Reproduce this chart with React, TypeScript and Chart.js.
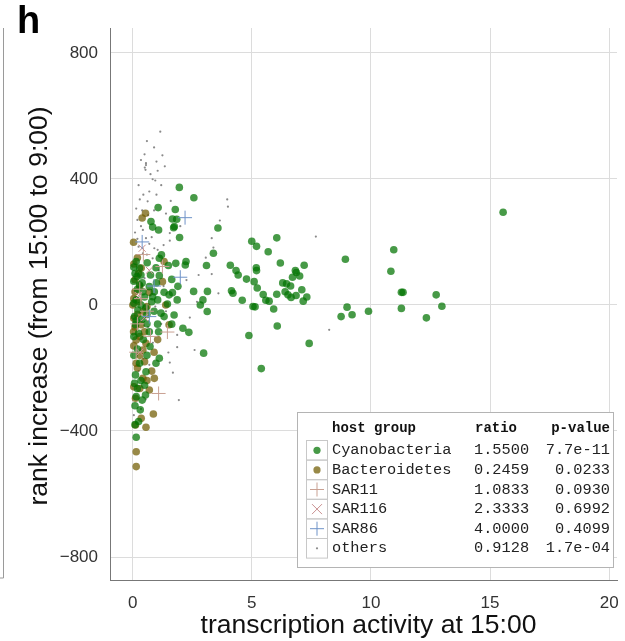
import React, { useEffect, useRef } from "react";
import { Chart, registerables } from "chart.js";
Chart.register(...registerables);

// ---------------- data ----------------
const cyanobacteria: number[][] = [
  [15.55, 294], [10.96, 175], [10.84, 107], [11.28, 40], [11.35, 40], [11.28, -11], [12.33, -41], [12.74, 32], [12.98, -4],
  [8.93, 145], [9.0, -7], [8.75, -37], [9.21, -31], [9.9, -20],
  [5.0, 202], [5.2, 186], [6.05, 213], [5.69, 169], [4.1, 126], [6.2, 133], [5.19, 118], [5.2, 109], [4.34, 109], [4.43, 95],
  [4.78, 82], [5.1, 74], [5.23, 54], [4.15, 45], [4.21, 37], [4.6, 15], [5.48, 33], [5.59, 15], [5.73, 12], [5.05, -5],
  [5.14, -6], [5.92, -13], [6.05, 34], [6.3, 70], [6.46, 67], [6.63, 60], [6.83, 109], [6.87, 103], [7.01, 92], [6.71, 88],
  [7.2, 126], [6.4, 42], [6.52, 32], [6.65, 24], [6.86, 30], [7.1, 48], [7.31, 25], [7.16, 12], [6.07, -67], [4.88, -97],
  [7.41, -122], [5.4, -202],
  [1.96, 373], [2.57, 340], [1.07, 309], [1.79, 303], [0.77, 265], [1.67, 273], [1.85, 272], [1.75, 249], [0.84, 247],
  [1.09, 238], [3.58, 244],
  [1.72, 245], [1.97, 214], [3.39, 164], [1.21, 159], [1.12, 148], [0.61, 134], [0.98, 118], [1.5, 125], [1.81, 132],
  [2.24, 138], [2.21, 127], [3.1, 125], [1.12, 93], [1.64, 81], [1.9, 59], [2.56, 43], [3.14, 43], [0.7, 58], [0.91, 42],
  [1.32, 40], [1.53, 32], [1.67, 39], [1.87, 16], [1.46, 3], [1.05, 16], [0.84, 26], [2.95, 16], [2.84, 0], [3.13, -21],
  [1.19, -26], [1.32, -37], [1.74, -32], [1.64, -61], [1.05, -61], [2.11, -74], [2.36, -87], [1.09, -85], [0.15, 138],
  [0.29, 117], [0.18, 90], [0.29, 63], [0.43, 42], [0.15, 16], [0.22, -16], [0.08, -37], [0.12, -63], [0.7, -85],
  [0.73, -132], [2.98, -153], [1.12, -169], [0.98, -185], [0.29, -185], [0.56, -212], [0.12, -222], [0.08, -249],
  [0.4, -302], [0.15, -291], [0.54, -286], [0.32, -333], [0.15, -420],
  [0.05, 120], [0.1, 100], [0.35, 95], [0.05, 75], [0.4, 70], [0.2, 50], [0.5, 25], [0.05, 5], [0.35, 0], [0.55, -10],
  [0.15, -50], [0.4, -45], [0.6, -30], [0.25, -90], [0.05, -100], [0.45, -110], [0.2, -140], [0.6, -160], [0.05, -160],
  [0.35, -240], [0.2, -265], [0.5, -255], [0.1, -320], [0.25, -370], [0.1, -380], [0.8, 10], [0.9, -20], [0.75, 95],
  [1.0, 70], [0.6, -60],
];

const bacteroidetes: number[][] = [
  [0.54, 291], [0.4, 276], [0.04, 199], [0.36, 117], [0.1, 42], [0.01, 0], [0.05, -42], [0.36, -63], [0.04, -85],
  [1.32, 138], [1.39, 0], [1.53, -63], [1.25, 74], [0.91, -233], [0.7, -270], [0.12, -296], [0.87, -346], [0.36, -360],
  [0.12, -381], [0.56, -388], [0.15, -466], [0.15, -513], [0.43, -233], [0.15, -185], [0.43, -143], [0.15, -111],
  [0.56, -122], [0.05, 130], [0.25, 100], [0.1, 80], [0.3, 60], [0.05, 20], [0.25, 10], [0.45, -20], [0.2, -30],
  [0.1, -70], [0.3, -100], [0.5, -85], [0.05, -130], [0.3, -160], [0.2, -200], [0.5, -180], [0.05, -260], [0.3, -265],
  [0.6, -240], [0.8, -210], [0.7, 40], [0.6, -5], [1.05, -110], [0.9, -150], [0.2, 150],
];

const sar11: number[][] = [
  [1.09, -281], [1.46, -86], [1.25, 122], [0.3, 50], [0.6, -20], [0.15, -150], [0.45, 160], [0.2, -60], [0.75, -100], [0.35, 20],
];

const sar116: number[][] = [
  [0.4, 180], [0.25, 30], [0.5, -40], [0.3, -150], [0.7, 110],
];

const sar86: number[][] = [
  [2.2, 277], [2.0, 88], [0.7, -37], [0.4, 200], [0.9, 60],
];

const others: number[][] = [
  [1.16, 550], [0.5, 478], [1.25, 475], [0.56, 444], [0.51, 436], [1.05, 426], [0.84, 399], [0.45, 350], [0.3, 335],
  [0.63, 329], [0.15, 306], [3.97, 335], [4.0, 312], [3.66, 268], [0.56, 450], [0.54, 429], [1.56, 228], [0.43, 238],
  [0.56, 212], [0.7, 194], [0.91, 180], [0.43, 164], [1.56, 204], [3.32, 212], [3.39, 182], [3.07, 150], [2.77, 95],
  [3.32, 98], [3.6, 37], [2.26, 79], [0.84, 148], [1.05, 175], [7.69, 217], [8.25, -79], [1.5, -151], [1.87, -134],
  [1.56, -183], [1.69, -215], [1.94, -302], [2.6, -143], [1.87, -95],
  [0.2, 270], [0.35, 250], [0.1, 230], [0.65, 285], [0.9, 300], [0.25, 185], [0.6, 160], [0.15, 105], [0.5, 85],
  [0.75, 30], [0.95, -5], [0.3, -25], [0.65, -70], [0.85, -120], [0.45, -170], [0.25, -210], [0.7, -190], [1.2, -60],
  [1.4, -20], [1.3, 60], [2.4, -40], [2.7, 10], [0.35, -330], [0.55, -300], [0.05, -350], [1.1, 110], [0.8, 215],
  [1.2, 380], [0.95, 395], [0.7, 360], [1.4, 290],
  [0.6, 520], [0.9, 500], [0.35, 460], [1.0, 455], [0.75, 415], [0.25, 380], [1.35, 440], [0.4, 300], [1.0, 350],
  [1.6, 330], [2.0, 250], [0.2, 210], [1.3, 190],
];

const xTicks = [0, 5, 10, 15, 20];
const yTicks = [-800, -400, 0, 400, 800];

const groupNames = ["Cyanobacteria", "Bacteroidetes", "SAR11", "SAR116", "SAR86", "others"];
const ratios = ["1.5500", "0.2459", "1.0833", "2.3333", "4.0000", "0.9128"];
const pValues = ["7.7e-11", "0.0233", "0.0930", "0.6992", "0.4099", "1.7e-04"];
const headers = ["host group", "ratio", "p-value"];

const xTitle = "transcription activity at 15:00";
const yTitle = "rank increase (from 15:00 to 9:00)";
const panelLabel = "h";

// ---------------- styles ----------------
const GREEN = "rgba(0,115,0,0.72)";
const OLIVE = "rgba(112,92,0,0.72)";
const SAR11_C = "#c9a193";
const SAR116_C = "#c99090";
const SAR86_C = "#6f93c8";
const GRAY = "#8a8a8a";
const SANS = "'Liberation Sans', Arial, Helvetica, sans-serif";
const MONO = "'Liberation Mono', 'Courier New', monospace";

const toXY = (a: number[][]) => a.map(([x, y]) => ({ x, y }));

function drawMarker(ctx: CanvasRenderingContext2D, kind: number, cx: number, cy: number) {
  ctx.save();
  if (kind === 0 || kind === 1) {
    ctx.fillStyle = kind === 0 ? GREEN : OLIVE;
    ctx.beginPath();
    ctx.arc(cx, cy, 3.6, 0, Math.PI * 2);
    ctx.fill();
  } else if (kind === 2 || kind === 4) {
    ctx.strokeStyle = kind === 2 ? SAR11_C : SAR86_C;
    ctx.lineWidth = 1;
    ctx.beginPath();
    ctx.moveTo(cx - 7, cy); ctx.lineTo(cx + 7, cy);
    ctx.moveTo(cx, cy - 7); ctx.lineTo(cx, cy + 7);
    ctx.stroke();
  } else if (kind === 3) {
    ctx.strokeStyle = SAR116_C;
    ctx.lineWidth = 1;
    ctx.beginPath();
    ctx.moveTo(cx - 5, cy - 5); ctx.lineTo(cx + 5, cy + 5);
    ctx.moveTo(cx - 5, cy + 5); ctx.lineTo(cx + 5, cy - 5);
    ctx.stroke();
  } else {
    ctx.fillStyle = GRAY;
    ctx.beginPath();
    ctx.arc(cx, cy, 1.1, 0, Math.PI * 2);
    ctx.fill();
  }
  ctx.restore();
}

const decorPlugin = {
  id: "decor",
  afterDraw(chart: any) {
    const ctx: CanvasRenderingContext2D = chart.ctx;
    const area = chart.chartArea;
    ctx.save();

    // remnant of neighbouring panel
    ctx.strokeStyle = "#9a9a9a";
    ctx.lineWidth = 1;
    ctx.beginPath();
    ctx.moveTo(3.5, area.top);
    ctx.lineTo(3.5, area.bottom - 2);
    ctx.lineTo(0, area.bottom - 2);
    ctx.stroke();

    // panel label
    ctx.fillStyle = "#000";
    ctx.font = `bold 38px ${SANS}`;
    ctx.textAlign = "left";
    ctx.textBaseline = "alphabetic";
    ctx.fillText(panelLabel, 17, 33);

    // axis titles
    ctx.fillStyle = "#111";
    ctx.font = `26.5px ${SANS}`;
    ctx.textAlign = "center";
    ctx.textBaseline = "middle";
    ctx.fillText(xTitle, (area.left + area.right) / 2 + 5, 626);

    ctx.save();
    ctx.translate(40, (area.top + area.bottom) / 2 + 2);
    ctx.rotate(-Math.PI / 2);
    ctx.font = `26.5px ${SANS}`;
    ctx.fillText(yTitle, 0, 0);
    ctx.restore();

    // legend table
    const bx = 297.5, by = 412.5, bw = 316, bh = 155;
    ctx.fillStyle = "#fff";
    ctx.fillRect(bx, by, bw, bh);
    ctx.strokeStyle = "#b4b4b4";
    ctx.lineWidth = 1;
    ctx.strokeRect(bx, by, bw, bh);

    const cellX = 306.5, cellW = 21, cellTop = 440.5, cellH = 19.6;
    ctx.strokeStyle = "#c8c8c8";
    for (let i = 0; i < groupNames.length; i++) {
      ctx.strokeRect(cellX, cellTop + i * cellH, cellW, cellH);
    }

    ctx.fillStyle = "#111";
    ctx.textBaseline = "middle";
    ctx.font = `bold 14px ${MONO}`;
    ctx.textAlign = "left";
    ctx.fillText(headers[0], 332, 428);
    ctx.fillText(headers[1], 475, 428);
    ctx.textAlign = "right";
    ctx.fillText(headers[2], 610, 428);

    ctx.font = `15.3px ${MONO}`;
    for (let i = 0; i < groupNames.length; i++) {
      const cy = cellTop + i * cellH + cellH / 2;
      drawMarker(ctx, i, cellX + cellW / 2, cy);
      ctx.fillStyle = "#222";
      ctx.textAlign = "left";
      ctx.fillText(groupNames[i], 332, cy);
      ctx.fillText(ratios[i], 474, cy);
      ctx.textAlign = "right";
      ctx.fillText(pValues[i], 610, cy);
    }
    ctx.restore();
  },
};

export default function App() {
  const ref = useRef<HTMLCanvasElement | null>(null);
  useEffect(() => {
    if (!ref.current) return;
    const chart = new Chart(ref.current, {
      type: "scatter",
      data: {
        datasets: [
          { label: "SAR86", data: toXY(sar86), pointStyle: "cross", pointRadius: 7, borderColor: SAR86_C, backgroundColor: SAR86_C, borderWidth: 1 },
          { label: "SAR116", data: toXY(sar116), pointStyle: "crossRot", pointRadius: 5, borderColor: SAR116_C, backgroundColor: SAR116_C, borderWidth: 1 },
          { label: "SAR11", data: toXY(sar11), pointStyle: "cross", pointRadius: 7, borderColor: SAR11_C, backgroundColor: SAR11_C, borderWidth: 1 },
          { label: "Cyanobacteria", data: toXY(cyanobacteria), pointStyle: "circle", pointRadius: 3.8, backgroundColor: GREEN, borderWidth: 0 },
          { label: "Bacteroidetes", data: toXY(bacteroidetes), pointStyle: "circle", pointRadius: 3.8, backgroundColor: OLIVE, borderWidth: 0 },
          { label: "others", data: toXY(others), pointStyle: "circle", pointRadius: 1.1, backgroundColor: GRAY, borderWidth: 0 },
        ],
      },
      options: {
        animation: false,
        responsive: true,
        maintainAspectRatio: false,
        devicePixelRatio: 1,
        layout: { padding: { top: 28, left: 0, right: 0, bottom: 0 } },
        plugins: { legend: { display: false }, tooltip: { enabled: false } },
        scales: {
          x: {
            type: "linear",
            min: -0.95,
            max: 20.33,
            afterBuildTicks: (s: any) => { s.ticks = xTicks.map((v) => ({ value: v })); },
            afterFit: (s: any) => { s.height = 61; s.paddingLeft = 0; s.paddingRight = 0; },
            grid: { color: "#dcdcdc", drawTicks: false },
            border: { color: "#777" },
            ticks: { padding: 13, font: { family: SANS, size: 17 }, color: "#333", maxRotation: 0 },
          },
          y: {
            type: "linear",
            min: -873,
            max: 879,
            afterBuildTicks: (s: any) => { s.ticks = yTicks.map((v) => ({ value: v })); },
            afterFit: (s: any) => { s.width = 110; s.paddingTop = 0; s.paddingBottom = 0; },
            grid: { color: "#dcdcdc", drawTicks: false },
            border: { color: "#777" },
            ticks: {
              padding: 12,
              font: { family: SANS, size: 17 },
              color: "#333",
              callback: (v: any) => (Number(v) < 0 ? "\u2212" + Math.abs(Number(v)) : String(v)),
            },
          },
        },
      },
      plugins: [decorPlugin],
    } as any);
    return () => chart.destroy();
  }, []);

  return (
    <div style={{ position: "fixed", left: 0, top: 0, width: 625, height: 641, background: "#fff" }}>
      <canvas ref={ref} style={{ width: "100%", height: "100%" }} />
    </div>
  );
}
